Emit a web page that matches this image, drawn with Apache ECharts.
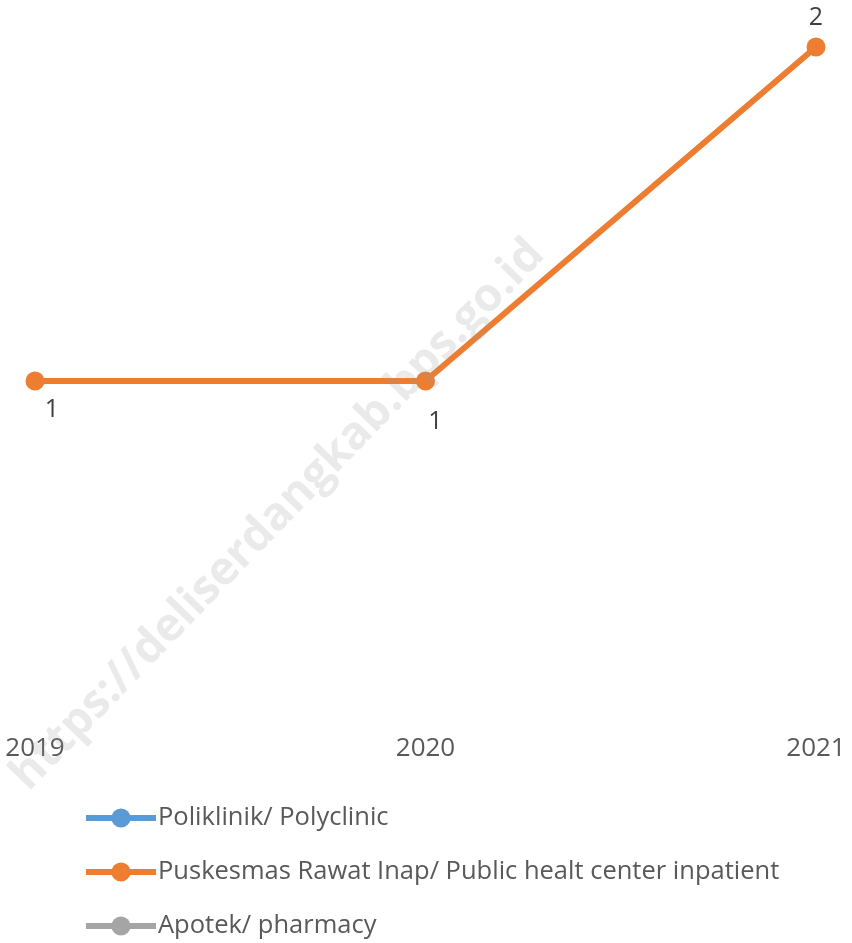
<!DOCTYPE html>
<html>
<head>
<meta charset="utf-8">
<script src="https://cdn.jsdelivr.net/npm/echarts@6/dist/echarts.min.js"></script>
<style>
    html, body { margin: 0; padding: 0; background: #fff; }
    #chart { width: 852px; height: 943px; }
</style>
</head>
<body>
<div id="chart"></div>
<script>
    let years = ['2019', '2020', '2021'];
    let poliklinik = [null, null, null];
    let puskesmas = [1, 1, 2];
    let apotek = [null, null, null];
    let seriesNames = ['Poliklinik/ Polyclinic', 'Puskesmas Rawat Inap/ Public healt center inpatient', 'Apotek/ pharmacy'];

    let chart = echarts.init(document.getElementById('chart'));
    let fontFamily = 'Open Sans, Noto Sans, sans-serif';

    // per-point label placement like the original
    let labelPos = [
        { position: 'bottom', offset: [17, 2] },
        { position: 'bottom', offset: [10, 14] },
        { position: 'top', offset: [0, -2] }
    ];

    let makeSeries = function(name, data, color){
        return {
            name: name,
            type: 'line',
            data: data.map((v, i) => ({
                value: v,
                label: labelPos[i]
            })),
            symbol: 'circle',
            symbolSize: 19,
            lineStyle: { width: 6, color: color },
            itemStyle: { color: color },
            label: {
                show: true,
                color: '#404040',
                fontSize: 25,
                fontFamily: fontFamily
            },
            emphasis: { disabled: true }
        };
    };

    // one legend per row so nothing wraps into a second column
    let makeLegend = function(name, top){
        return {
            orient: 'vertical',
            left: 83,
            top: top,
            padding: 0,
            itemWidth: 70,
            itemHeight: 24,
            lineStyle: { width: 6 },
            textStyle: { color: '#595959', fontSize: 25.5, lineHeight: 24, fontFamily: fontFamily, padding: [0, 0, 0, -3] },
            data: [name]
        };
    };

    chart.setOption({
        animation: false,
        grid: { left: 35, right: 36, top: 47, bottom: 228 },
        xAxis: {
            type: 'category',
            data: years,
            boundaryGap: false,
            axisLine: { show: false },
            axisTick: { show: false },
            axisLabel: { color: '#595959', fontSize: 26, fontFamily: fontFamily, margin: 21 }
        },
        yAxis: {
            type: 'value',
            min: 0,
            max: 2,
            show: false
        },
        legend: [
            makeLegend(seriesNames[0], 805),
            makeLegend(seriesNames[1], 859),
            makeLegend(seriesNames[2], 913)
        ],
        color: ['#5B9BD5', '#ED7D31', '#A5A5A5'],
        series: [
            makeSeries(seriesNames[0], poliklinik, '#5B9BD5'),
            makeSeries(seriesNames[1], puskesmas, '#ED7D31'),
            makeSeries(seriesNames[2], apotek, '#A5A5A5')
        ],
        graphic: [{
            type: 'text',
            z: 100,
            rotation: Math.PI * 46 / 180,
            x: 278, y: 515,
            style: {
                text: 'https://deliserdangkab.bps.go.id',
                font: 'bold 46px "Open Sans", sans-serif',
                fill: 'rgba(150,150,150,0.2)',
                align: 'center',
                verticalAlign: 'middle'
            }
        }]
    });
</script>
</body>
</html>
